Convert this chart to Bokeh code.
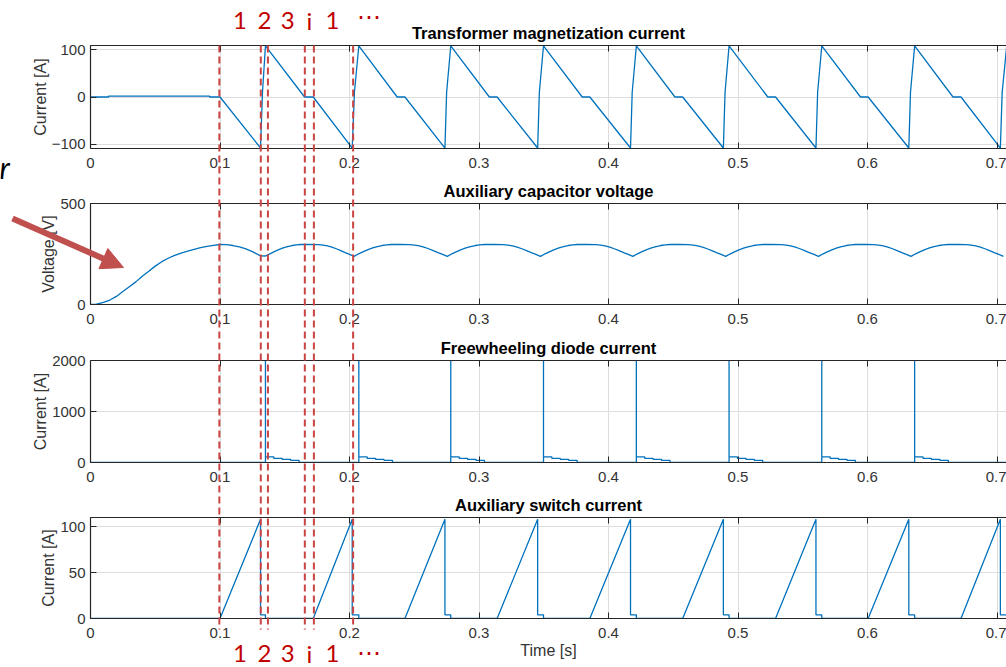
from bokeh.plotting import figure
from bokeh.models import Range1d, FixedTicker, LinearAxis, Arrow, NormalHead
from bokeh.layouts import column
from bokeh.embed import file_html
from bokeh.resources import INLINE
from bokeh.core.properties import value

# ---------------- data ----------------
x_ticks = [0, 0.1, 0.2, 0.3, 0.4, 0.5, 0.6, 0.7]

# switching instants [s]
t_bottom     = [0.1313, 0.2021, 0.2737, 0.3453, 0.4170, 0.4887, 0.5602, 0.6319, 0.7026]
t_rise_mid   = [0.1328, 0.2038, 0.2750, 0.3466, 0.4183, 0.4900, 0.5615, 0.6332, 0.7040]
t_peak       = [0.1351, 0.2072, 0.2782, 0.3498, 0.4215, 0.4931, 0.5647, 0.6364, 0.7075]
t_zero_start = [0.1653, 0.2368, 0.3080, 0.3797, 0.4513, 0.5230, 0.5946, 0.6660]
t_zero_end   = [0.1720, 0.2428, 0.3140, 0.3856, 0.4573, 0.5290, 0.6005, 0.6722]

# transformer magnetization current [A]
mag_start_t = [0.0, 0.014, 0.014, 0.092, 0.092, 0.100]
mag_start_i = [0, 0, 2, 2, 0, 0]
mag_peak = 108
mag_rise_mid = 10

# auxiliary capacitor voltage [V]
v_start_t = [0.000, 0.004, 0.010, 0.015, 0.020, 0.025, 0.030, 0.035, 0.040, 0.045,
             0.050, 0.055, 0.060, 0.065, 0.070, 0.075, 0.080, 0.085, 0.090, 0.095,
             0.100, 0.105, 0.110, 0.115, 0.120, 0.125, 0.1313, 0.1351]
v_start = [0, 0, 10, 22, 40, 64, 88, 112, 140, 165,
           190, 212, 229, 243, 254, 264, 273, 281, 288, 293,
           297, 296, 292, 285, 275, 262, 241, 240]
v_min_t = [0.1351, 0.2035, 0.2755, 0.3475, 0.4188, 0.4905, 0.5622, 0.6336, 0.7050]
hump_frac = [0, 0.05, 0.1, 0.15, 0.2, 0.25, 0.3, 0.35, 0.4, 0.5, 0.6, 0.65, 0.7,
             0.75, 0.8, 0.85, 0.9, 0.95, 1.0]
hump_v = [240, 251, 262, 272, 280, 287, 292, 295, 297, 297, 296, 294, 290,
          284, 276, 267, 257, 248, 238]

# freewheeling diode current [A]
diode_spike = 2000
diode_stair_dt = [0, 0.0065, 0.0065, 0.013, 0.013, 0.0195, 0.0195, 0.026, 0.026]
diode_stair_i = [110, 110, 80, 80, 60, 60, 40, 40, 0]

# auxiliary switch current [A]
sw_first_on = 0.1
sw_peak = 108
sw_tail = 4

# phase markers
phase_t = [0.0995, 0.1315, 0.1370, 0.1655, 0.1725, 0.2028]
phase_labels = ["1", "2", "3", "i", "1", "\u22ef"]
phase_label_t = [0.1155, 0.1343, 0.1522, 0.1690, 0.1868, 0.2147]

# ---------------- build series ----------------
T_END = 0.72

mag_t = list(mag_start_t)
mag_i = list(mag_start_i)
for k in range(len(t_bottom)):
    mag_t += [t_bottom[k], t_rise_mid[k], t_peak[k]]
    mag_i += [-mag_peak, mag_rise_mid, mag_peak]
    if k < len(t_zero_start):
        mag_t += [t_zero_start[k], t_zero_end[k]]
        mag_i += [0, 0]

v_t = list(v_start_t)
v_v = list(v_start)
for a, b in zip(v_min_t[:-1], v_min_t[1:]):
    for f, vv in zip(hump_frac[1:], hump_v[1:]):
        v_t.append(a + f * (b - a))
        v_v.append(vv)

d_t = [0.0]
d_i = [0]
for tp in t_peak:
    d_t += [tp, tp, tp]
    d_i += [0, diode_spike, diode_stair_i[0]]
    for dt, ii in zip(diode_stair_dt, diode_stair_i):
        d_t.append(tp + dt)
        d_i.append(ii)
d_t.append(T_END)
d_i.append(0)

s_t = [0.0, sw_first_on]
s_i = [0, 0]
ons = [sw_first_on] + t_zero_end
for k in range(len(t_bottom)):
    if k > 0:
        s_t.append(ons[k]); s_i.append(0)
    s_t += [t_bottom[k], t_bottom[k], t_peak[k], t_peak[k]]
    s_i += [sw_peak, sw_tail, sw_tail, 0]
s_t.append(T_END); s_i.append(0)

# ---------------- layout ----------------
W = 1006
H = 667
FRAME_LEFT = 90
PX_PER_S = 1295.0
X_END = (W - FRAME_LEFT) / PX_PER_S

AX = "#262626"
TICK = "#333333"
GRID = "#dedede"
BLUE = "#0072BD"
RED_LINE = "#C94442"
RED_TEXT = "#C00000"
ARROW = "#C0504D"
FONT = "Liberation Sans"


def panel(title, ylabel, y0, y1, yticks, height, top, bottom, xlabel=None):
    p = figure(width=W, height=height, x_range=Range1d(0, X_END), y_range=Range1d(y0, y1),
               output_backend="svg", toolbar_location=None, title=title,
               min_border_left=FRAME_LEFT, min_border_right=0,
               min_border_top=top, min_border_bottom=bottom)
    p.outline_line_color = None
    p.background_fill_color = "white"
    p.title.align = "center"
    p.title.text_font = FONT
    p.title.text_font_size = "16.5px"
    p.title.text_font_style = "bold"
    p.title.text_color = "black"
    p.title.standoff = 7

    xt = FixedTicker(ticks=x_ticks)
    yt = FixedTicker(ticks=yticks)
    xa = p.xaxis[0]
    xa.ticker = xt
    xa.major_label_overrides = {0: "0"}
    ya = p.yaxis[0]
    ya.ticker = yt
    ya.axis_label = ylabel
    for ax in (xa, ya):
        ax.major_tick_in = 6
        ax.major_tick_out = 0
        ax.minor_tick_line_color = None
        ax.axis_line_color = AX
        ax.axis_line_width = 1.2
        ax.major_tick_line_color = AX
        ax.major_label_text_font = FONT
        ax.major_label_text_font_size = "15px"
        ax.major_label_text_color = TICK
        ax.axis_label_text_font = FONT
        ax.axis_label_text_font_size = "16px"
        ax.axis_label_text_font_style = "normal"
        ax.axis_label_text_color = TICK
    xa.major_label_standoff = 9
    xa.axis_label_standoff = 1
    ya.major_label_standoff = 5
    ya.axis_label_standoff = 0
    if xlabel:
        xa.axis_label = xlabel

    top_ax = LinearAxis(ticker=FixedTicker(ticks=x_ticks), major_label_text_font_size="1px",
                        major_label_text_color=None,
                        major_label_standoff=0, major_tick_in=6, major_tick_out=0,
                        minor_tick_line_color=None, axis_line_color=AX, axis_line_width=1.2,
                        major_tick_line_color=AX)
    p.add_layout(top_ax, "above")

    p.xgrid.ticker = xt
    p.ygrid.ticker = yt
    p.grid.grid_line_color = GRID
    p.grid.grid_line_width = 1
    return p


p1 = panel("Transformer magnetization current", "Current [A]", -109, 109, [-100, 0, 100],
           173, 45, 25)
p1.line(mag_t, mag_i, line_color=BLUE, line_width=1.3)

p2 = panel("Auxiliary capacitor voltage", "Voltage [V]", 0, 500, [0, 500], 156, 30, 25)
p2.line(v_t, v_v, line_color=BLUE, line_width=1.3)

p3 = panel("Freewheeling diode current", "Current [A]", 0, 2000, [0, 1000, 2000], 158, 31, 25)
p3.line(d_t, d_i, line_color=BLUE, line_width=1.3)

p4 = panel("Auxiliary switch current", "Current [A]", 0, 110, [0, 50, 100], 180, 30, 49,
           xlabel="Time [s]")
p4.line(s_t, s_i, line_color=BLUE, line_width=1.3)

# ---------------- overlay (phase markers and labels) ----------------
ov = figure(width=W, height=H, x_range=Range1d(0, X_END), y_range=Range1d(H, 0),
            output_backend="svg", toolbar_location=None,
            min_border_left=FRAME_LEFT, min_border_right=0, min_border_top=0, min_border_bottom=0,
            x_axis_type=None, y_axis_type=None)
ov.title.visible = False
ov.outline_line_color = None
ov.background_fill_color = None
ov.border_fill_color = None
ov.grid.visible = False

ov.segment(x0=phase_t, y0=[45] * len(phase_t), x1=phase_t, y1=[629] * len(phase_t),
           line_color=RED_LINE, line_width=2, line_dash="7 4")

top_y = [20] * 5 + [15]
bot_y = [653] * 5 + [651]
for ys in (top_y, bot_y):
    ov.text(x=phase_label_t, y=ys, text=phase_labels,
            text_font=value("Lato"), text_font_size="24px", text_color=RED_TEXT,
            text_align="center", text_baseline="alphabetic")

ov.styles = {"position": "absolute", "top": "0px", "left": "0px", "z-index": "10",
             "pointer-events": "none"}

# ---------------- side note (arrow and cut-off text) ----------------
NX0, NY0, NW, NH = 0, 150, 140, 130
note = figure(width=NW, height=NH, x_range=Range1d(NX0, NX0 + NW),
              y_range=Range1d(NY0 + NH, NY0), output_backend="svg", toolbar_location=None,
              min_border=0, x_axis_type=None, y_axis_type=None)
note.title.visible = False
note.outline_line_color = None
note.background_fill_color = None
note.border_fill_color = None
note.grid.visible = False
note.text(x=[-1], y=[166], text=["r"], text_font=value("Lato"), text_font_size="30px",
          text_font_style="italic", text_color="black", text_align="left",
          text_baseline="alphabetic")
note.add_layout(Arrow(end=NormalHead(size=22, fill_color=ARROW, line_color=ARROW),
                      x_start=12, y_start=218, x_end=123, y_end=267,
                      line_color=ARROW, line_width=6))
note_box = column(note, styles={"position": "absolute", "top": "%dpx" % NY0,
                                "left": "%dpx" % NX0, "z-index": "11",
                                "pointer-events": "none"})

layout = column(p1, p2, p3, p4, ov, note_box)

with open("out.html", "w") as f:
    f.write(file_html(layout, INLINE))
